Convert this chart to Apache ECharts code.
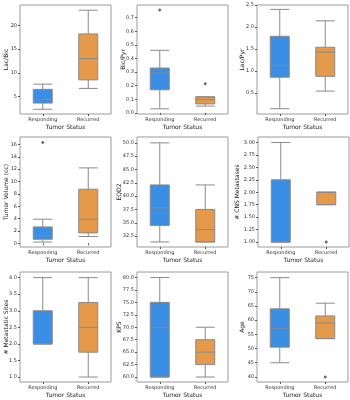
<!DOCTYPE html>
<html>
<head>
<meta charset="utf-8">
<script src="https://cdn.jsdelivr.net/npm/echarts@6/dist/echarts.min.js"></script>
<style>
  html, body { margin: 0; padding: 0; background: #fff; }
  #chart { width: 350px; height: 400px; }
</style>
</head>
<body>
<div id="chart"></div>
<script>
  // categories on every x axis
  const categories = ["Responding", "Recurred"];

  // box stats per group: [low whisker, Q1, median, Q3, high whisker]
  const lacBicBoxes = [[2.3, 3.6, 4.4, 6.5, 7.6], [6.7, 8.5, 13.0, 18.2, 23.2]];
  const lacBicOutliers = [];
  const lacBicTicks = [5, 10, 15, 20];

  const bicPyrBoxes = [[0.03, 0.17, 0.293, 0.33, 0.46], [0.05, 0.066, 0.097, 0.118, 0.118]];
  const bicPyrOutliers = [[0, 0.756], [1, 0.215]];
  const bicPyrTicks = [0.0, 0.1, 0.2, 0.3, 0.4, 0.5, 0.6, 0.7];

  const lacPyrBoxes = [[0.145, 0.86, 1.13, 1.79, 2.4], [0.545, 0.88, 1.43, 1.54, 2.14]];
  const lacPyrOutliers = [];
  const lacPyrTicks = [0.5, 1.0, 1.5, 2.0, 2.5];

  const volumeBoxes = [[0.2, 0.65, 1.24, 2.65, 3.9], [1.1, 1.68, 3.9, 8.75, 12.2]];
  const volumeOutliers = [[0, 16.3]];
  const volumeTicks = [0, 2, 4, 6, 8, 10, 12, 14, 16];

  const eqd2Boxes = [[31.4, 34.5, 37.8, 42.1, 50.0], [31.4, 31.4, 33.7, 37.5, 42.1]];
  const eqd2Outliers = [];
  const eqd2Ticks = [32.5, 35.0, 37.5, 40.0, 42.5, 45.0, 47.5, 50.0];

  const cnsBoxes = [[1.0, 1.0, 1.0, 2.25, 3.0], [1.75, 1.75, 2.0, 2.0, 2.0]];
  const cnsOutliers = [[1, 1.0]];
  const cnsTicks = [1.0, 1.25, 1.5, 1.75, 2.0, 2.25, 2.5, 2.75, 3.0];

  const sitesBoxes = [[2.0, 2.0, 2.0, 3.0, 4.0], [1.0, 1.75, 2.5, 3.25, 4.0]];
  const sitesOutliers = [];
  const sitesTicks = [1.0, 1.5, 2.0, 2.5, 3.0, 3.5, 4.0];

  const kpsBoxes = [[60, 60, 70, 75, 80], [60, 62.5, 65, 67.5, 70]];
  const kpsOutliers = [];
  const kpsTicks = [60.0, 62.5, 65.0, 67.5, 70.0, 72.5, 75.0, 77.5, 80.0];

  const ageBoxes = [[45, 50.5, 57, 64, 75], [53.5, 53.5, 59, 61.5, 66]];
  const ageOutliers = [[1, 40]];
  const ageTicks = [40, 45, 50, 55, 60, 65, 70, 75];

  const boxColors = ["#3a8ee3", "#e5994b"];
  const font = "DejaVu Sans";

  // layout of each panel (px) + axis limits
  const panels = [
    { name: "Lac/Bic", boxes: lacBicBoxes, out: lacBicOutliers, ticks: lacBicTicks, range: [1.3, 24.3], dec: 0, left: 20, top: 5, gap: 11 },
    { name: "Bic/Pyr", boxes: bicPyrBoxes, out: bicPyrOutliers, ticks: bicPyrTicks, range: [-0.008, 0.793], dec: 1, left: 137, top: 5, gap: 11 },
    { name: "Lac/Pyr", boxes: lacPyrBoxes, out: lacPyrOutliers, ticks: lacPyrTicks, range: [0.025, 2.5], dec: 1, left: 257, top: 5, gap: 12 },
    { name: "Tumor Volume (cc)", boxes: volumeBoxes, out: volumeOutliers, ticks: volumeTicks, range: [-0.6, 17.2], dec: 0, left: 20, top: 137, gap: 11 },
    { name: "EQD2", boxes: eqd2Boxes, out: eqd2Outliers, ticks: eqd2Ticks, range: [30.45, 51.1], dec: 1, left: 137, top: 137, gap: 15 },
    { name: "# CNS Metastases", boxes: cnsBoxes, out: cnsOutliers, ticks: cnsTicks, range: [0.9, 3.11], dec: 2, left: 258, top: 137, gap: 18 },
    { name: "# Metastatic Sites", boxes: sitesBoxes, out: sitesOutliers, ticks: sitesTicks, range: [0.85, 4.17], dec: 1, left: 20, top: 272, gap: 11 },
    { name: "KPS", boxes: kpsBoxes, out: kpsOutliers, ticks: kpsTicks, range: [59.0, 81.1], dec: 1, left: 137, top: 272, gap: 15 },
    { name: "Age", boxes: ageBoxes, out: ageOutliers, ticks: ageTicks, range: [38.2, 77.0], dec: 0, left: 257, top: 272, gap: 12 },
  ];

  const chart = echarts.init(document.getElementById("chart"), null, { renderer: "canvas" });

  const grid = [], xAxis = [], yAxis = [], series = [];
  panels.forEach((p, i) => {
    grid.push({
      left: p.left, top: p.top, width: 91, height: i < 3 ? 109 : 110,
      show: true, borderColor: "#9a9a9a", borderWidth: 1,
      outerBoundsMode: "none",
    });
    xAxis.push({
      type: "category", gridIndex: i, data: categories,
      name: "Tumor Status", nameLocation: "middle", nameGap: 10,
      nameMoveOverlap: false,
      nameTextStyle: { fontFamily: font, fontSize: 6, color: "#222" },
      axisLine: { show: false },
      axisTick: { show: true, alignWithLabel: true, length: 2, lineStyle: { color: "#555" } },
      axisLabel: { fontFamily: font, fontSize: 5, color: "#333", margin: 3, interval: 0, hideOverlap: false },
      splitLine: { show: false },
    });
    yAxis.push({
      type: "value", gridIndex: i, min: p.range[0], max: p.range[1],
      name: p.name, nameLocation: "middle", nameGap: p.gap,
      nameMoveOverlap: false,
      nameTextStyle: { fontFamily: font, fontSize: 6, color: "#222" },
      axisLine: { show: false },
      axisTick: { show: true, length: 2, customValues: p.ticks, lineStyle: { color: "#555" } },
      axisLabel: {
        fontFamily: font, fontSize: 5, color: "#333", margin: 3,
        customValues: p.ticks,
        formatter: (v) => Number(v).toFixed(p.dec),
      },
      splitLine: { show: false },
    });
    series.push({
      type: "boxplot", xAxisIndex: i, yAxisIndex: i,
      boxWidth: [19, 19],
      itemStyle: { borderColor: "#8a8a8a", borderWidth: 1 },
      emphasis: { disabled: true },
      data: p.boxes.map((b, k) => ({ value: b, itemStyle: { color: boxColors[k] } })),
    });
    series.push({
      type: "scatter", xAxisIndex: i, yAxisIndex: i,
      symbol: "diamond", symbolSize: 3.5,
      itemStyle: { color: "#3a3a3a" },
      data: p.out.map((o) => [categories[o[0]], o[1]]),
    });
  });

  chart.setOption({
    animation: false,
    backgroundColor: "#fff",
    grid: grid,
    xAxis: xAxis,
    yAxis: yAxis,
    series: series,
  });
</script>
</body>
</html>
